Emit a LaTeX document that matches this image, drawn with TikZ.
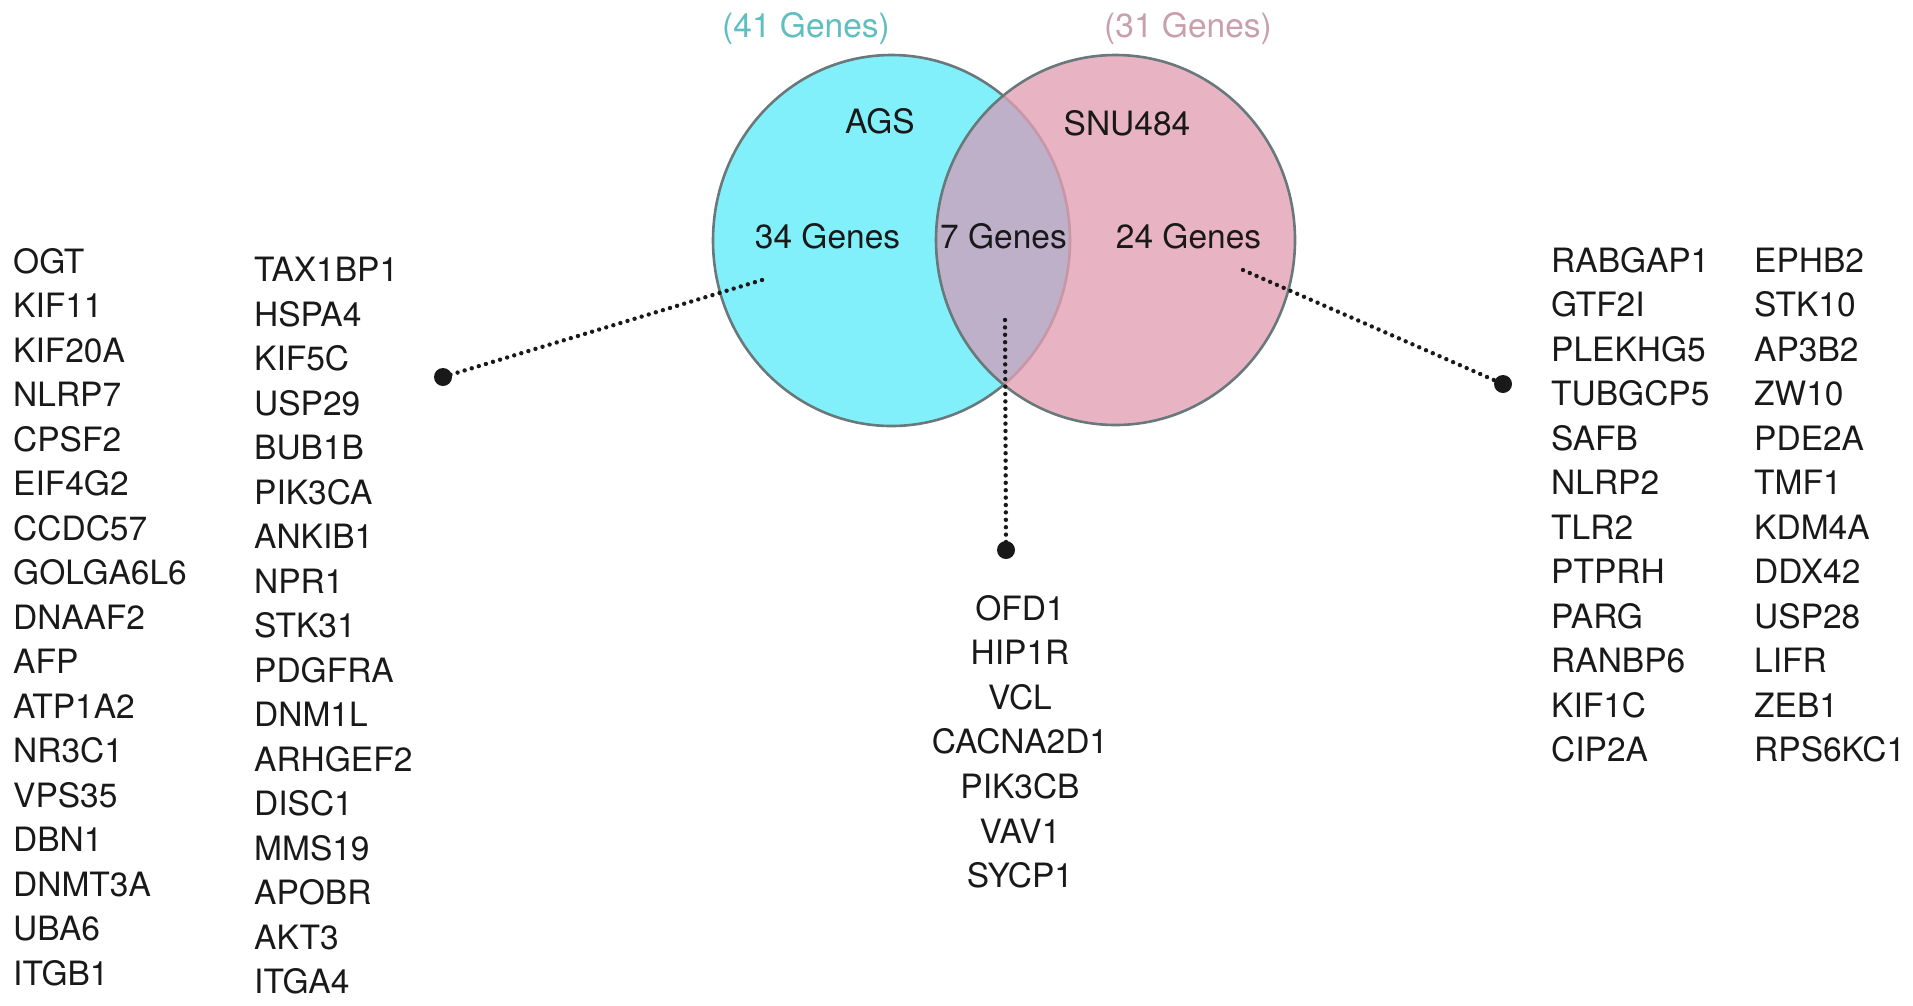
\documentclass[tikz,border=0pt]{standalone}
\usepackage{fontspec}
\setmainfont{TeX Gyre Heros}
\definecolor{agsfill}{RGB}{130,240,250}
\definecolor{snufill}{RGB}{232,180,195}
\definecolor{bothfill}{RGB}{190,176,200}
\definecolor{rimgray}{RGB}{105,120,122}
\definecolor{rimpink}{RGB}{200,150,165}
\definecolor{agstitle}{RGB}{95,190,192}
\definecolor{snutitle}{RGB}{200,160,172}
\definecolor{ink}{RGB}{25,25,25}
\begin{document}
\begin{tikzpicture}[x=1pt,y=-1pt,
  txt/.style={inner sep=0pt,text=ink,font=\fontsize{33.5}{40}\selectfont},
  gene/.style={txt,anchor=base west},
  cgene/.style={txt,anchor=base},
  dotline/.style={line width=4.4pt,dash pattern=on 0pt off 7.4pt,line cap=round,draw=ink},
  enddot/.style={circle,fill=ink,inner sep=0pt,minimum size=18pt},
  rim/.style={draw=rimgray,line width=2.6pt}]
\useasboundingbox (0,0) rectangle (1913,1005);
% Venn diagram
\fill[agsfill] (891.5,240.5) ellipse [x radius=178.5pt,y radius=185.5pt];
\fill[snufill] (1115.5,240) ellipse [x radius=179.5pt,y radius=185pt];
\begin{scope}
  \clip (891.5,240.5) ellipse [x radius=178.5pt,y radius=185.5pt];
  \fill[bothfill] (1115.5,240) ellipse [x radius=179.5pt,y radius=185pt];
\end{scope}
\begin{scope}
  \clip (1115.5,240) ellipse [x radius=179.5pt,y radius=185pt];
  \draw[draw=rimpink,line width=2.6pt] (891.5,240.5) ellipse [x radius=178.5pt,y radius=185.5pt];
\end{scope}
\begin{scope}[even odd rule]
  \clip (0,0) rectangle (1913,1005) (1115.5,240) ellipse [x radius=179.5pt,y radius=185pt];
  \draw[rim] (891.5,240.5) ellipse [x radius=178.5pt,y radius=185.5pt];
\end{scope}
\draw[rim] (1115.5,240) ellipse [x radius=179.5pt,y radius=185pt];
% titles and labels
\node[txt,anchor=base,text=agstitle] (t41) at (806,37) {(41 Genes)};
\node[txt,anchor=base,text=snutitle] (t31) at (1188,37) {(31 Genes)};
\node[cgene] (ags) at (880,133) {AGS};
\node[cgene] (snu) at (1127,135) {SNU484};
\node[cgene] (n34) at (827.5,248) {34 Genes};
\node[cgene] (n7) at (1003.5,248) {7 Genes};
\node[cgene] (n24) at (1188.5,248) {24 Genes};
% connectors
\coordinate (lstart) at (762,280);
\coordinate (cstart) at (1005,320);
\coordinate (rstart) at (1243,270);
\node[enddot] (ldot) at (443,377) {};
\node[enddot] (cdot) at (1006,550) {};
\node[enddot] (rdot) at (1503,384) {};
\draw[dotline] (lstart) -- (ldot.center);
\draw[dotline] (cstart) -- (cdot.center);
\draw[dotline] (rstart) -- (rdot.center);
% gene lists
\foreach \g [count=\i from 0] in {OGT,KIF11,KIF20A,NLRP7,CPSF2,EIF4G2,CCDC57,GOLGA6L6,DNAAF2,AFP,ATP1A2,NR3C1,VPS35,DBN1,DNMT3A,UBA6,ITGB1}
  \node[gene] (la\i) at (13,273+44.5*\i) {\g};
\foreach \g [count=\i from 0] in {TAX1BP1,HSPA4,KIF5C,USP29,BUB1B,PIK3CA,ANKIB1,NPR1,STK31,PDGFRA,DNM1L,ARHGEF2,DISC1,MMS19,APOBR,AKT3,ITGA4}
  \node[gene] (lb\i) at (254,281.7+44.5*\i) {\g};
\foreach \g [count=\i from 0] in {OFD1,HIP1R,VCL,CACNA2D1,PIK3CB,VAV1,SYCP1}
  \node[cgene] (c\i) at (1020,620+44.6*\i) {\g};
\foreach \g [count=\i from 0] in {RABGAP1,GTF2I,PLEKHG5,TUBGCP5,SAFB,NLRP2,TLR2,PTPRH,PARG,RANBP6,KIF1C,CIP2A}
  \node[gene] (ra\i) at (1551,272+44.5*\i) {\g};
\foreach \g [count=\i from 0] in {EPHB2,STK10,AP3B2,ZW10,PDE2A,TMF1,KDM4A,DDX42,USP28,LIFR,ZEB1,RPS6KC1}
  \node[gene] (rb\i) at (1754,272+44.5*\i) {\g};
\end{tikzpicture}
\end{document}
